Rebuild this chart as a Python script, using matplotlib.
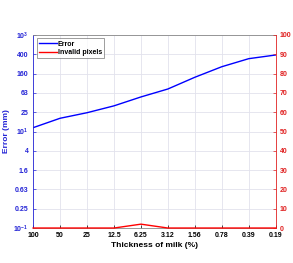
import numpy as np
import matplotlib.pyplot as plt
from matplotlib.ticker import FixedLocator, FixedFormatter

thickness = ['100', '50', '25', '12.5', '6.25', '3.12', '1.56', '0.78', '0.39', '0.19']
error_mm = [12, 18.8, 24.5, 34, 52, 76, 133, 220, 323, 385]
invalid_pct = [0, 0, 0, 0, 2, 0, 0, 0, 0, 0]

left_ticks = [10 ** e for e in np.arange(-1, 3.01, 0.4)]
left_labels = ['$10^{-1}$', '0.25', '0.63', '1.6', '4', '$10^{1}$',
               '25', '63', '160', '400', '$10^{3}$']

plt.rcParams['font.family'] = ['Liberation Sans', 'DejaVu Sans']
plt.rcParams['mathtext.fontset'] = 'custom'
plt.rcParams['mathtext.rm'] = 'Liberation Sans:bold'
plt.rcParams['mathtext.bf'] = 'Liberation Sans:bold'
plt.rcParams['mathtext.default'] = 'bf'
fs = 5.0
blue = '#2424d6'
red = '#e02020'

fig = plt.figure(figsize=(2.93, 2.63), dpi=100)
ax1 = fig.add_axes([0.113, 0.133, 0.828, 0.734])
x = np.arange(len(thickness))

ax1.plot(x, error_mm, color='b', lw=1.0, label='Error')
ax1.plot([], [], color='r', lw=1.0, label='Invalid pixels')
ax1.set_yscale('log')
ax1.set_ylim(0.1, 1000)
ax1.set_xlim(0, len(thickness) - 1)
ax1.yaxis.set_major_locator(FixedLocator(left_ticks))
ax1.yaxis.set_major_formatter(FixedFormatter(left_labels))
ax1.yaxis.set_minor_locator(FixedLocator([]))
ax1.set_xticks(x)
ax1.set_xticklabels(thickness)
ax1.tick_params(axis='y', colors=blue, labelsize=fs, length=2, width=0.5, direction='in')
ax1.tick_params(axis='x', labelsize=fs, length=2, width=0.5, direction='in', pad=3)
for lab in ax1.get_yticklabels() + ax1.get_xticklabels():
    lab.set_fontweight('bold')
ax1.grid(True, color='#e2e2ec', lw=0.6)
ax1.set_axisbelow(True)
ax1.set_ylabel('Error (mm)', color=blue, fontsize=6.0, fontweight='bold', labelpad=2)
ax1.set_xlabel('Thickness of milk (%)', fontsize=6.0, fontweight='bold', labelpad=2)

ax2 = ax1.twinx()
ax2.plot(x, invalid_pct, color='r', lw=1.0, clip_on=False, zorder=5)
ax2.set_ylim(0, 100)
ax2.set_yticks(range(0, 101, 10))
ax2.tick_params(axis='y', colors=red, labelsize=fs, length=2, width=0.5, direction='in', pad=3)
for lab in ax2.get_yticklabels():
    lab.set_fontweight('bold')

for s in ['top', 'bottom']:
    ax1.spines[s].set_color('#888888')
    ax1.spines[s].set_linewidth(0.6)
ax1.spines['left'].set_color(blue)
ax1.spines['right'].set_visible(False)
ax2.spines['right'].set_color(red)
ax2.spines['left'].set_visible(False)
ax2.spines['top'].set_visible(False)
ax2.spines['bottom'].set_visible(False)
for s in ax2.spines.values():
    s.set_linewidth(0.6)
ax1.spines['left'].set_linewidth(0.6)

leg = ax1.legend(loc='upper left', fontsize=fs, frameon=True, fancybox=False,
                 edgecolor='#555555', borderpad=0.3, handlelength=2.6,
                 handletextpad=0.15, labelspacing=0.25, borderaxespad=0.5)
leg.get_frame().set_linewidth(0.5)
for t in leg.get_texts():
    t.set_fontweight('bold')

fig.savefig('out.png', dpi=100)
